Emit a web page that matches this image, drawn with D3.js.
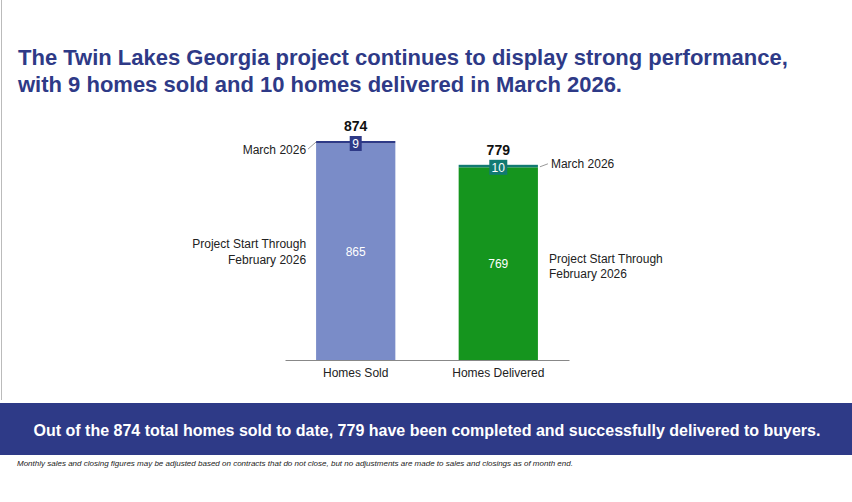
<!DOCTYPE html>
<html><head><meta charset="utf-8">
<script src="https://cdn.jsdelivr.net/npm/d3@7"></script>
<style>body{margin:0;background:#fff;font-family:"Liberation Sans",Arial,sans-serif}</style>
</head><body><div id="container"></div>
<script>
var categories = ["Homes Sold", "Homes Delivered"];
var priorValues = [865, 769];
var marchValues = [9, 10];
var segmentLabels = ["Project Start Through", "February 2026"];
var monthLabel = "March 2026";

var w = 852, h = 502;
var svg = d3.select("#container").append("svg").attr("width", w).attr("height", h);

svg.append("line").attr("x1", 1.5).attr("x2", 1.5).attr("y1", 0).attr("y2", 400)
  .attr("stroke", "#bbb");

svg.append("text").attr("x", 18).attr("y", 65).attr("fill", "#2e3a87")
  .style("font-size", "22px").style("font-weight", "bold")
  .text("The Twin Lakes Georgia project continues to display strong performance,");
svg.append("text").attr("x", 18).attr("y", 92).attr("fill", "#2e3a87")
  .style("font-size", "22px").style("font-weight", "bold")
  .text("with 9 homes sold and 10 homes delivered in March 2026.");

var x = d3.scaleBand().domain(categories).range([285, 569]).paddingInner(0.444).paddingOuter(0.218);
var totals = priorValues.map((v, i) => v + marchValues[i]);
var y = d3.scaleLinear().domain([0, 874]).range([360, 141]);

var baseColors = ["#7a8cc8", "#15951e"];
var topColors = ["#2e3a87", "#127a72"];

svg.selectAll(".base").data(categories).enter().append("rect")
  .attr("x", d => x(d)).attr("width", x.bandwidth())
  .attr("y", (d, i) => y(priorValues[i])).attr("height", (d, i) => y(0) - y(priorValues[i]))
  .attr("fill", (d, i) => baseColors[i]);
svg.selectAll(".top").data(categories).enter().append("rect")
  .attr("x", d => x(d)).attr("width", x.bandwidth())
  .attr("y", (d, i) => y(totals[i])).attr("height", (d, i) => y(priorValues[i]) - y(totals[i]))
  .attr("fill", (d, i) => topColors[i]);

svg.selectAll(".in").data(categories).enter().append("text")
  .attr("x", d => x(d) + x.bandwidth() / 2)
  .attr("y", (d, i) => (y(priorValues[i]) + y(0)) / 2 + 4)
  .attr("text-anchor", "middle").attr("fill", "#fff").style("font-size", "12px")
  .text((d, i) => priorValues[i]);

categories.forEach((d, i) => {
  var cx = x(d) + x.bandwidth() / 2, cy = y(totals[i]) + 2;
  var bw = i === 0 ? 12 : 18;
  svg.append("rect").attr("x", cx - bw / 2).attr("y", cy - 7).attr("width", bw).attr("height", 15)
    .attr("fill", topColors[i]);
  svg.append("text").attr("x", cx).attr("y", cy + 5).attr("text-anchor", "middle")
    .attr("fill", "#fff").style("font-size", "12px").text(marchValues[i]);
  svg.append("text").attr("x", cx).attr("y", y(totals[i]) - 10).attr("text-anchor", "middle")
    .attr("fill", "#111").style("font-size", "14px").style("font-weight", "bold").text(totals[i]);
});

var x0 = x(categories[0]), x1 = x(categories[1]) + x.bandwidth();
svg.append("text").attr("x", x0 - 10).attr("y", y(totals[0]) + 13).attr("text-anchor", "end")
  .attr("fill", "#222").style("font-size", "12px").text(monthLabel);
svg.append("line").attr("x1", x0 - 8).attr("y1", y(totals[0]) + 8).attr("x2", x0).attr("y2", y(totals[0]) + 1)
  .attr("stroke", "#999");
svg.append("text").attr("x", x1 + 13).attr("y", y(totals[1]) + 3)
  .attr("fill", "#222").style("font-size", "12px").text(monthLabel);
svg.append("line").attr("x1", x1 + 2).attr("y1", y(totals[1]) + 2).attr("x2", x1 + 10).attr("y2", y(totals[1]) - 1)
  .attr("stroke", "#999");

segmentLabels.forEach((t, k) => {
  svg.append("text").attr("x", x0 - 10).attr("y", 248 + k * 16).attr("text-anchor", "end")
    .attr("fill", "#222").style("font-size", "12px").text(t);
  svg.append("text").attr("x", x1 + 11).attr("y", 263 + k * 15)
    .attr("fill", "#222").style("font-size", "12px").text(t);
});

var ax = svg.append("g").attr("transform", "translate(0,360)").call(d3.axisBottom(x).tickSize(0).tickPadding(8));
ax.select(".domain").attr("stroke", "#888");
ax.selectAll("text").attr("fill", "#222").style("font-size", "12px").style("font-family", "Liberation Sans, Arial, sans-serif");

svg.append("rect").attr("x", 0).attr("y", 403).attr("width", w).attr("height", 52).attr("fill", "#2e3a87");
svg.append("text").attr("x", 427).attr("y", 436).attr("text-anchor", "middle").attr("fill", "#fff")
  .style("font-size", "16px").style("font-weight", "bold")
  .text("Out of the 874 total homes sold to date, 779 have been completed and successfully delivered to buyers.");
svg.append("text").attr("x", 17).attr("y", 466).attr("fill", "#222")
  .style("font-size", "8px").style("font-style", "italic")
  .text("Monthly sales and closing figures may be adjusted based on contracts that do not close, but no adjustments are made to sales and closings as of month end.");
</script></body></html>
